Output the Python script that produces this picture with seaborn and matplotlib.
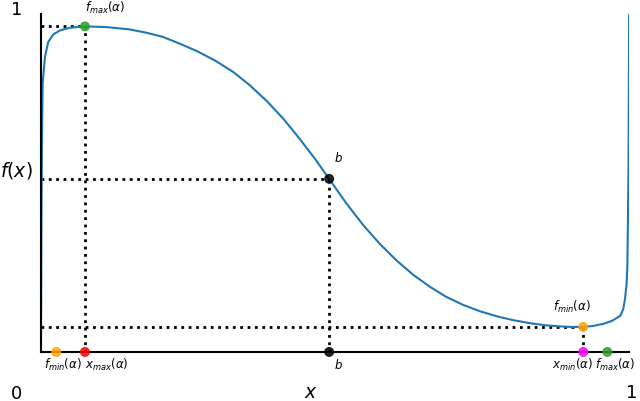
import numpy as np
import pandas as pd
import matplotlib
matplotlib.use("Agg")
import matplotlib.pyplot as plt
import seaborn as sns

# points
courbe_x = [0.0, 0.0005, 0.001, 0.0017, 0.0029, 0.0068, 0.0124, 0.0209, 0.0323, 0.0493,
            0.0748, 0.111, 0.151, 0.180, 0.207, 0.236, 0.265, 0.296, 0.327, 0.355,
            0.384, 0.413, 0.440, 0.466, 0.490, 0.519, 0.548, 0.577, 0.605, 0.633,
            0.662, 0.689, 0.718, 0.747, 0.776, 0.803, 0.832, 0.857, 0.883, 0.903,
            0.922, 0.939, 0.956, 0.971, 0.985, 0.990, 0.993, 0.9957, 0.997, 0.998,
            0.999, 0.9995, 1.0]
courbe_y = [0.0, 0.25, 0.45, 0.639, 0.795, 0.873, 0.917, 0.939, 0.951, 0.959,
            0.963, 0.961, 0.954, 0.944, 0.932, 0.912, 0.890, 0.862, 0.828, 0.789,
            0.742, 0.688, 0.630, 0.571, 0.512, 0.440, 0.375, 0.318, 0.270, 0.228,
            0.192, 0.163, 0.139, 0.120, 0.105, 0.094, 0.085, 0.079, 0.0755, 0.074,
            0.074, 0.077, 0.083, 0.092, 0.107, 0.127, 0.157, 0.201, 0.254, 0.39,
            0.550, 0.78, 1.0]

# points remarquables
x_max, f_max = 0.0748, 0.963
b, f_b = 0.490, 0.512
x_min, f_min = 0.922, 0.074
f_min_axe = 0.026

pts_x = [x_max, b, x_min, f_min_axe, x_max, b, x_min, f_max]
pts_y = [f_max, f_b, f_min, 0, 0, 0, 0, 0]
pts_couleur = ["#2ca02c", "black", "orange", "orange", "red", "black", "magenta", "#2ca02c"]

sns.set_style("white")
plt.rcParams["text.color"] = "black"
fig = plt.figure(figsize=(6.4, 4.02), dpi=100)
ax = fig.add_axes([0.064, 0.122, 0.919, 0.841])

df = pd.DataFrame({"x": courbe_x, "y": courbe_y})
sns.lineplot(data=df, x="x", y="y", ax=ax, color="#1f77b4", lw=1.5, zorder=2)

# lignes pointillees
for xx, yy in [(x_max, f_max), (b, f_b), (x_min, f_min)]:
    ax.plot([0, xx], [yy, yy], ls=":", color="black", lw=2, zorder=1)
    ax.plot([xx, xx], [0, yy], ls=":", color="black", lw=2, zorder=1)

ax.scatter(pts_x, pts_y, c=pts_couleur, s=40, edgecolors=pts_couleur, linewidths=0.8,
           zorder=4, clip_on=False, alpha=0.85)

ax.set_xlim(0, 1)
ax.set_ylim(0, 1)
ax.set_xticks([])
ax.set_yticks([])
ax.set_xlabel("")
ax.set_ylabel("")
sns.despine(ax=ax)
for s in ["left", "bottom"]:
    ax.spines[s].set_color("black")
    ax.spines[s].set_linewidth(1.5)

petit = 8.5
ax.text(0.109, 1.021, r"$f_{max}(\alpha)$", ha="center", va="center", fontsize=petit, clip_on=False)
ax.text(0.505, 0.577, r"$b$", ha="center", va="center", fontsize=petit)
ax.text(0.903, 0.136, r"$f_{min}(\alpha)$", ha="center", va="center", fontsize=petit)
ax.text(0.037, -0.036, r"$f_{min}(\alpha)$", ha="center", va="center", fontsize=petit, clip_on=False)
ax.text(0.112, -0.036, r"$x_{max}(\alpha)$", ha="center", va="center", fontsize=petit, clip_on=False)
ax.text(0.505, -0.036, r"$b$", ha="center", va="center", fontsize=petit, clip_on=False)
ax.text(0.903, -0.036, r"$x_{min}(\alpha)$", ha="center", va="center", fontsize=petit, clip_on=False)
ax.text(0.976, -0.036, r"$f_{max}(\alpha)$", ha="center", va="center", fontsize=petit, clip_on=False)

grand = 13
ax.text(-0.041, -0.121, "0", ha="center", va="center", fontsize=grand, clip_on=False)
ax.text(1.005, -0.118, "1", ha="center", va="center", fontsize=grand, clip_on=False)
ax.text(-0.041, 1.015, "1", ha="center", va="center", fontsize=grand, clip_on=False)
ax.text(-0.042, 0.541, r"$f(x)$", ha="center", va="center", fontsize=13.5, clip_on=False)
ax.text(0.459, -0.118, r"$x$", ha="center", va="center", fontsize=13.5, clip_on=False)

plt.savefig("out.png", dpi=100)
